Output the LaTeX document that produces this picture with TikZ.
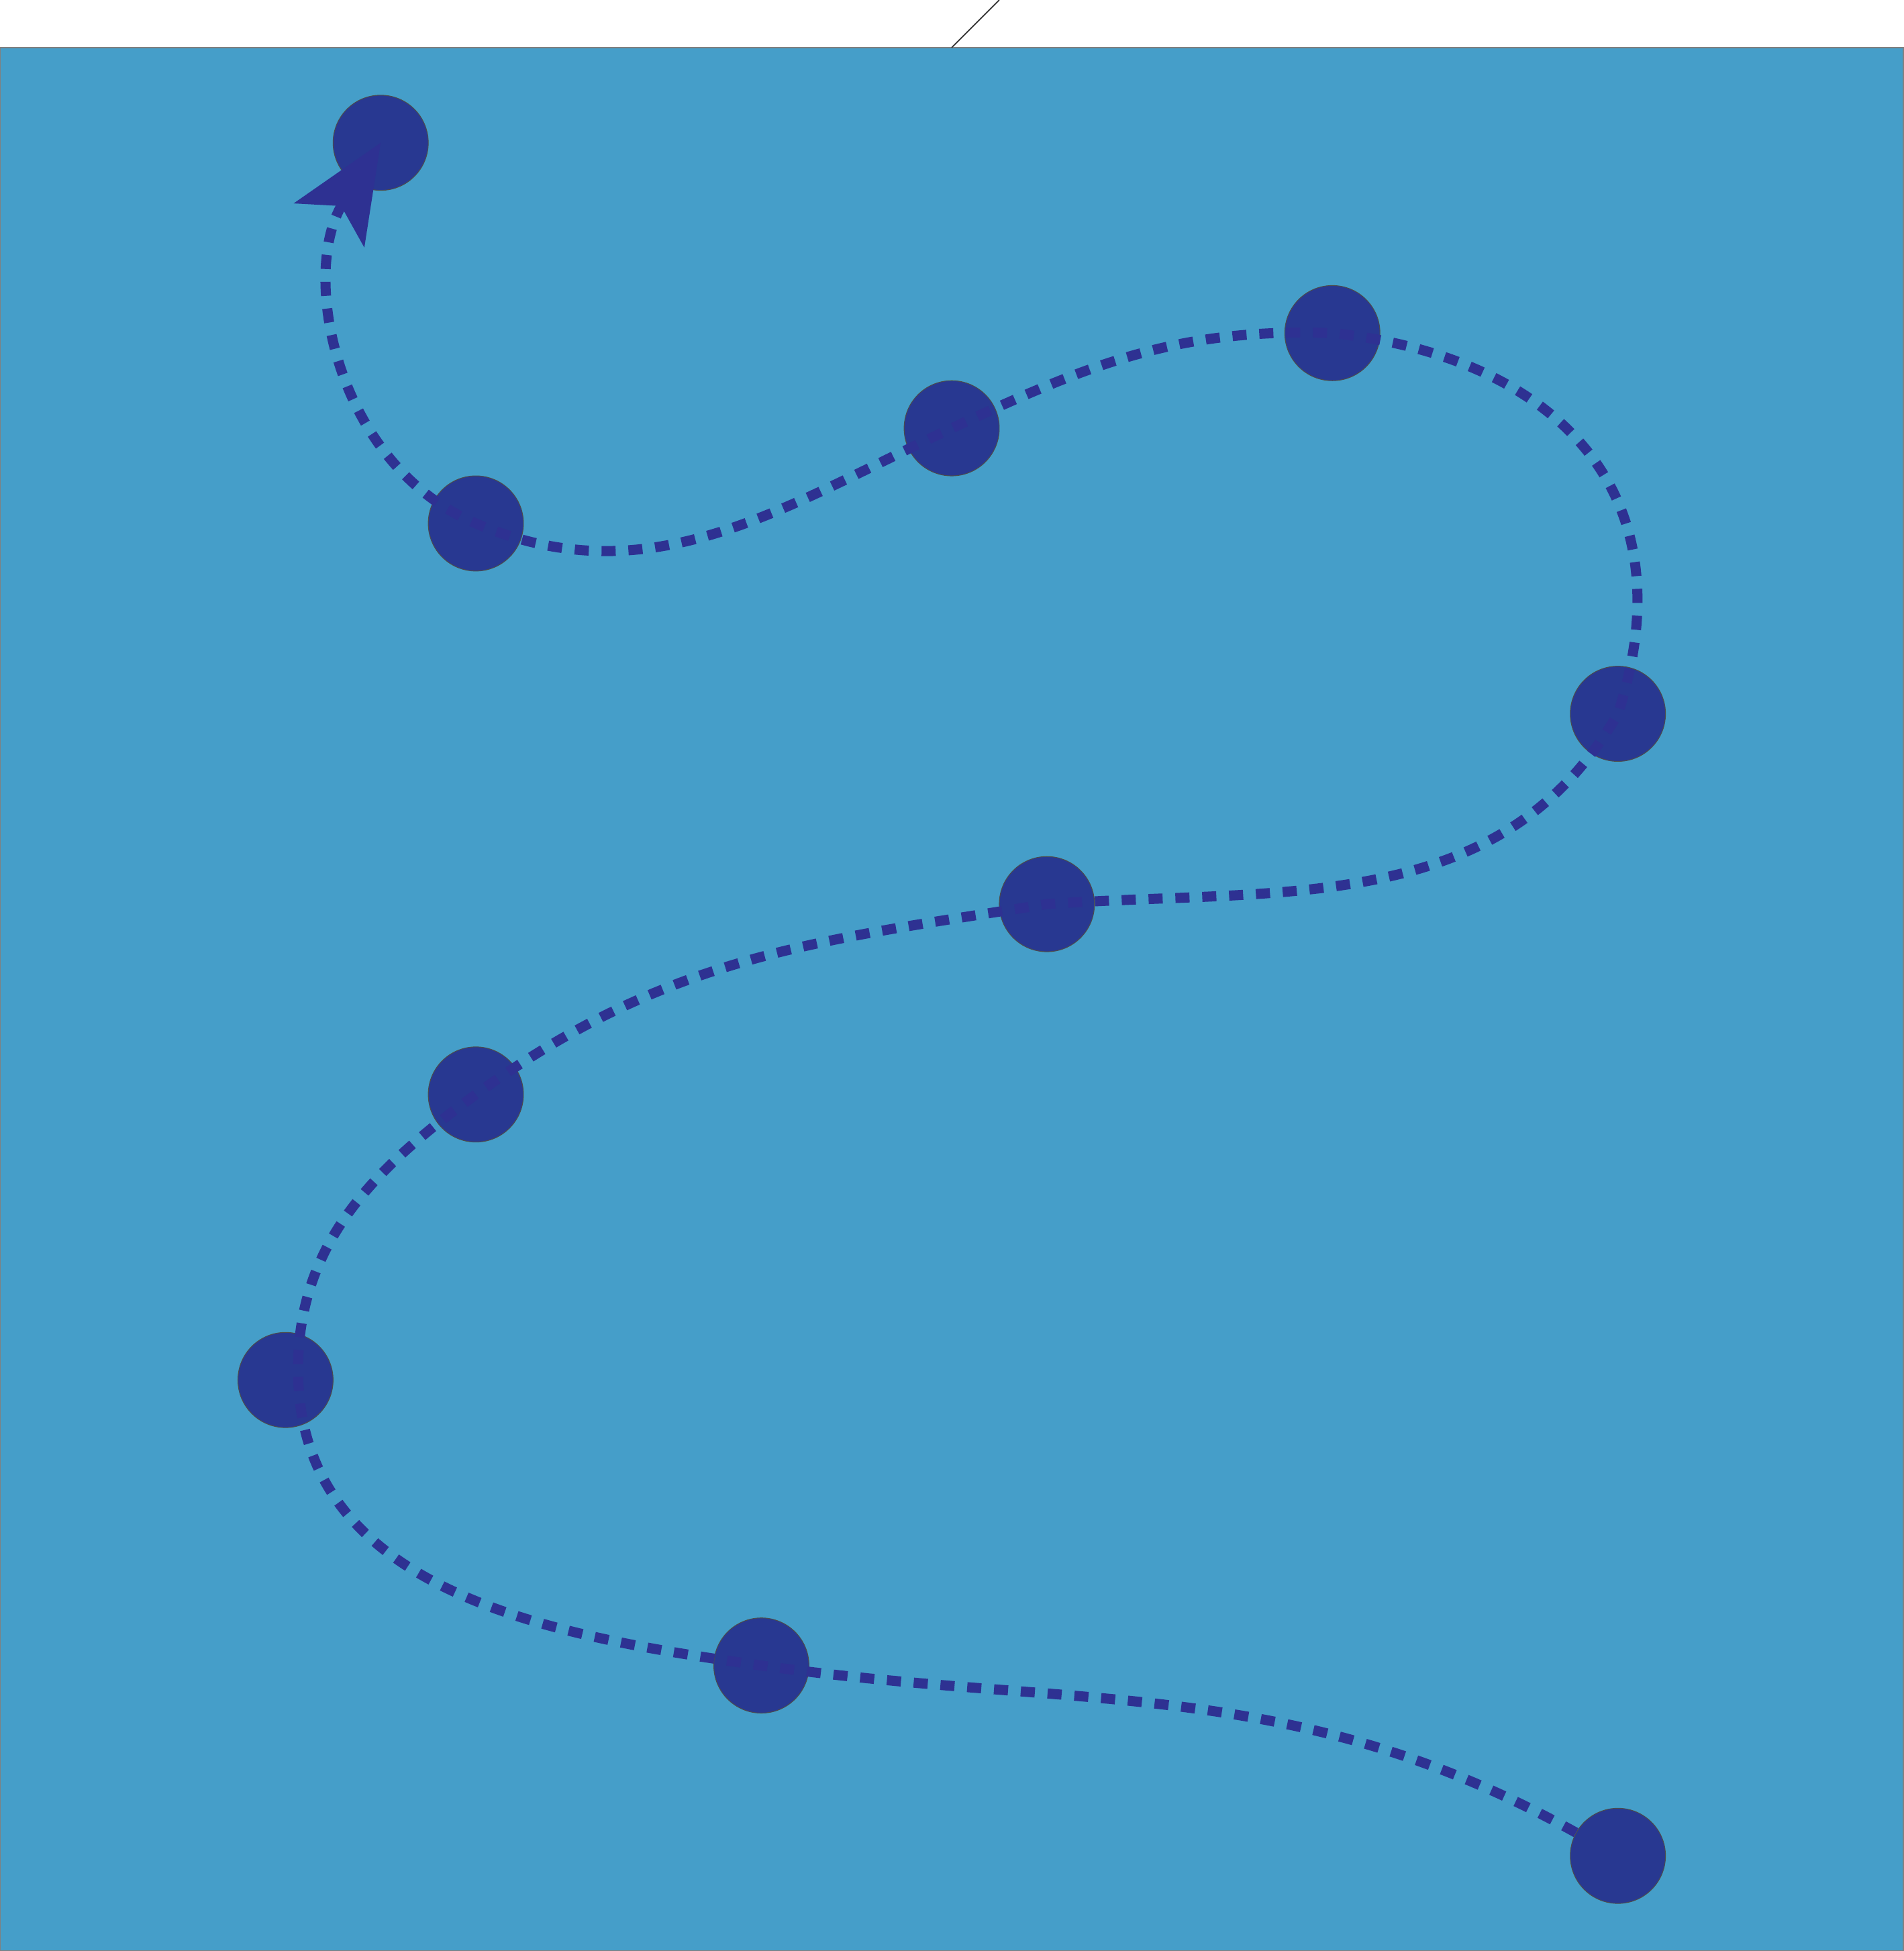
\documentclass[tikz,border=0pt]{standalone}
\usepackage{tikz}
\usetikzlibrary{arrows.meta}
\definecolor{SeaBlue}{RGB}{69,158,201}
\definecolor{DotNavy}{RGB}{40,56,145}
\definecolor{TrailNavy}{RGB}{46,49,146}

\begin{document}
\begin{tikzpicture}[x=1.417cm, y=1.417cm,
	spot/.style={circle, fill=DotNavy, draw=black!70, line width=0.3pt,
		minimum size=1.417cm, inner sep=0pt},
	trail/.style={draw=TrailNavy, line width=0.15cm,
		dash pattern=on 0.21cm off 0.19cm}]
	\useasboundingbox (0,0) rectangle (20,-20.5);
	% background sheet
	\draw[gray, line width=0.8pt, fill=SeaBlue] (0,-0.5) rectangle (20,-20.5);
	\coordinate (t1) at (10,-0.5);
	\coordinate (t2) at (10.5,0);
	\draw[black!80, line width=0.5pt] (t1) -- (t2);
	% stops
	\node[spot] (p1) at (4,-1.5) {};
	\node[spot] (p2) at (5,-5.5) {};
	\node[spot] (p3) at (10,-4.5) {};
	\node[spot] (p4) at (14,-3.5) {};
	\node[spot] (p5) at (17,-7.5) {};
	\node[spot] (p6) at (11,-9.5) {};
	\node[spot] (p7) at (5,-11.5) {};
	\node[spot] (p8) at (3,-14.5) {};
	\node[spot] (p9) at (8,-17.5) {};
	\node[spot] (p10) at (17,-19.5) {};
	% winding trail
	\draw[trail, -{Stealth[length=1.44cm, width=1.22cm, inset=0.33cm]}]
		(p10) to[out=151, in=-8] (p9.center)
		to[out=172, in=-88] ([xshift=0.19cm]p8.center)
		to[out=92, in=216] (p7.center)
		to[out=36, in=189] (p6.center)
		to[out=4, in=240] (p5.center)
		to[out=72, in=-6, out looseness=1.28, in looseness=1.17] (p4.center)
		to[out=178, in=25] (p3.center)
		to[out=205, in=-23] (p2.center)
		to[out=157, in=238] (p1.center);
\end{tikzpicture}
\end{document}
